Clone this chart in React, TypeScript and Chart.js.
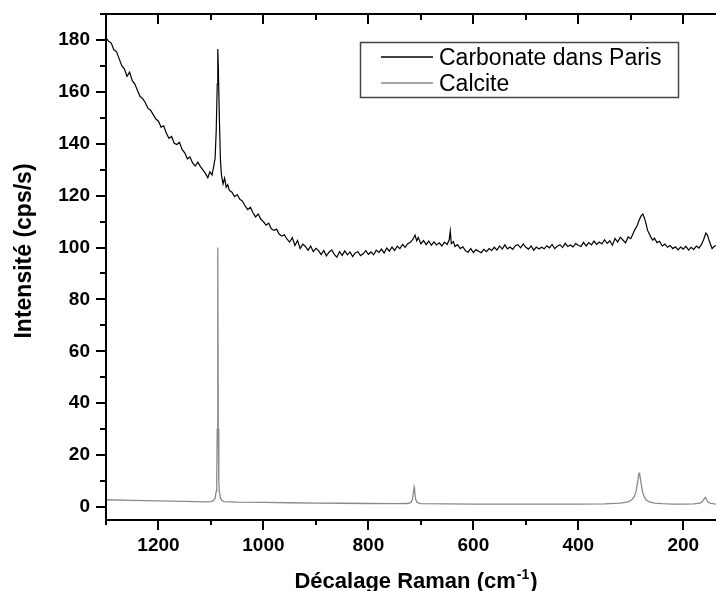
import React, { useEffect, useRef } from "react";
import { Chart, registerables } from "chart.js";

Chart.register(...registerables);

// ---- Data ----
const carbonateX = [
  1300, 1295, 1290, 1285, 1280, 1275, 1270, 1265, 1260, 1255, 1250, 1245, 1240, 1235, 1230, 1225, 1220, 1215, 1210, 1205,
  1200, 1195, 1190, 1185, 1180, 1175, 1170, 1165, 1160, 1155, 1150, 1145, 1140, 1135, 1130, 1125, 1120, 1115, 1110, 1106,
  1102, 1098, 1095, 1092, 1090, 1088, 1087, 1086, 1084, 1082, 1080, 1077, 1074, 1071, 1068, 1065, 1060, 1055, 1050, 1045,
  1040, 1035, 1030, 1025, 1020, 1015, 1010, 1005, 1000, 995, 990, 985, 980, 975, 970, 965, 960, 955, 950, 945,
  940, 935, 930, 925, 920, 915, 910, 905, 900, 895, 890, 885, 880, 875, 870, 865, 860, 855, 850, 845,
  840, 835, 830, 825, 820, 815, 810, 805, 800, 795, 790, 785, 780, 775, 770, 765, 760, 755, 750, 745,
  740, 735, 730, 725, 720, 715, 711, 708, 705, 700, 695, 690, 685, 680, 675, 670, 665, 660, 655, 650,
  646, 644, 642, 638, 635, 630, 625, 620, 615, 610, 605, 600, 595, 590, 585, 580, 575, 570, 565, 560,
  555, 550, 545, 540, 535, 530, 525, 520, 515, 510, 505, 500, 495, 490, 485, 480, 475, 470, 465, 460,
  455, 450, 445, 440, 435, 430, 425, 420, 415, 410, 405, 400, 395, 390, 385, 380, 375, 370, 365, 360,
  355, 350, 345, 340, 335, 330, 325, 320, 315, 310, 305, 300, 296, 292, 288, 284, 280, 277, 274, 271,
  268, 265, 262, 258, 255, 250, 245, 240, 235, 230, 225, 220, 215, 210, 205, 200, 195, 190, 185, 180,
  175, 170, 165, 161, 157, 154, 151, 148, 145, 142, 138,
];
const carbonateY = [
  180.8, 179.5, 178.8, 176.2, 175.5, 172.8, 170.1, 168.9, 166.0, 167.6, 164.3, 163.0, 160.5, 158.2, 157.4, 155.8, 153.6, 152.9, 151.2, 149.5,
  148.7, 146.4, 146.9, 144.0, 142.1, 142.8, 140.2, 139.7, 140.6, 137.8, 136.5, 134.2, 134.9, 132.6, 131.4, 132.9, 131.2, 129.8, 128.4, 126.9,
  129.2, 128.0, 131.0, 134.5, 145.0, 163.0, 176.5, 170.0, 150.0, 134.0, 128.0, 124.5, 126.8, 123.2, 124.2, 122.0, 121.3, 119.6, 120.4, 118.6,
  117.9, 116.1, 114.6, 115.5, 113.4, 111.8, 112.9, 110.9, 110.0, 108.6, 109.4, 107.2, 106.6, 107.1, 105.2, 104.4, 104.9, 103.2, 102.1, 103.8,
  100.8, 102.7, 99.6, 101.3, 100.4, 98.9, 100.6, 98.4, 99.7, 98.8, 97.3, 98.9, 96.8, 98.2, 99.1, 97.4, 96.3, 98.4, 97.0, 98.7,
  97.2, 98.3, 96.5, 97.9, 98.4, 96.9, 97.6, 98.8, 97.4, 98.3, 97.2, 99.0, 98.1, 99.4, 97.9, 99.8, 98.6, 100.2, 98.9, 100.5,
  99.6, 101.2, 100.1, 101.5, 102.0, 103.2, 104.8, 102.6, 103.9, 101.4, 102.7, 101.1, 102.5, 100.9, 102.2, 101.0, 101.8, 100.6, 102.1, 101.2,
  103.0, 106.4, 101.5, 102.3, 100.4, 101.1, 99.6, 100.3, 98.7, 98.2, 99.6, 98.1, 99.2, 98.6, 98.0, 99.3, 98.4, 99.6, 98.9, 100.1,
  99.0, 100.6, 99.4, 101.0, 99.5, 100.2, 99.3, 100.7, 101.1, 99.9, 101.4, 100.1, 99.4, 100.6, 99.0, 100.2, 99.4, 100.1, 99.5, 100.7,
  99.9, 101.2, 99.6, 100.5, 101.1, 100.0, 101.6, 100.4, 101.0, 100.2, 101.5, 100.9, 100.4, 102.0, 100.6, 101.9, 101.0, 102.5, 101.2, 102.1,
  101.4, 103.0, 101.6, 102.6, 100.9, 103.5, 102.1, 104.0, 102.9, 101.8, 104.1, 103.4, 105.2, 107.0, 108.4, 110.6, 112.3, 112.9, 111.4, 109.2,
  106.6, 105.4, 104.1, 102.8, 103.6, 101.9, 102.4, 100.6, 101.3, 100.1, 100.8, 99.6, 100.3, 99.1, 100.2, 99.4, 100.5, 99.0, 100.1, 99.3,
  100.6, 99.8, 101.3, 103.2, 105.6, 104.8, 102.9, 101.2, 99.6, 100.3, 100.8,
];

const calciteX = [
  1300, 1250, 1200, 1150, 1110, 1100, 1095, 1092, 1090, 1089, 1088, 1087, 1086, 1085, 1084, 1082, 1079, 1075, 1050, 1000,
  950, 900, 850, 800, 750, 725, 719, 716, 714, 713, 712, 710, 707, 700, 650, 600, 550, 500, 450, 400,
  350, 320, 305, 298, 293, 290, 287, 285, 284, 283, 281, 278, 275, 271, 265, 255, 240, 220, 200, 180,
  168, 163, 160, 158, 156, 153, 148, 140, 135,
];
const calciteY = [
  2.8, 2.6, 2.4, 2.2, 2.0, 2.1, 2.5, 3.5, 6, 10, 30, 100, 30, 10, 6, 3.5, 2.5, 2.1, 1.9, 1.8,
  1.65, 1.5, 1.45, 1.35, 1.3, 1.35, 1.8, 3, 6, 7.6, 6.5, 3, 1.8, 1.3, 1.2, 1.15, 1.1, 1.1, 1.1, 1.1,
  1.2, 1.5, 2.0, 2.8, 4.2, 6, 9.5, 12.5, 13, 12.5, 10, 6.2, 4.2, 2.8, 2.0, 1.5, 1.3, 1.15, 1.1, 1.2,
  1.5, 2.2, 3.2, 3.7, 3.0, 1.9, 1.4, 1.2, 1.1,
];

const seriesLabels = ["Carbonate dans Paris", "Calcite"];
const seriesColors = ["#000000", "#8a8a8a"];

const xTickLabels = [1200, 1000, 800, 600, 400, 200];
const xMinorTicks = [1300, 1100, 900, 700, 500, 300];
const yTickLabels = [0, 20, 40, 60, 80, 100, 120, 140, 160, 180];
const yMinorTicks = [10, 30, 50, 70, 90, 110, 130, 150, 170, 190];

const X_MIN = 130;
const X_MAX = 1300;
const Y_MIN = -5;
const Y_MAX = 190;

const xTitle = "Décalage Raman (cm";
const xTitleSup = "-1";
const xTitleEnd = ")";
const yTitle = "Intensité (cps/s)";

const FONT = '"Liberation Sans", Arial, Helvetica, sans-serif';

const framePlugin = {
  id: "frame",
  afterDraw(chart: any) {
    const { ctx, chartArea } = chart;
    const { left, right, top, bottom } = chartArea;
    const xs = chart.scales.x;
    const ys = chart.scales.y;
    ctx.save();
    ctx.strokeStyle = "#000";
    ctx.lineWidth = 2;
    ctx.lineCap = "butt";
    ctx.beginPath();
    ctx.moveTo(left - 1, top);
    ctx.lineTo(right + 1, top);
    ctx.moveTo(left - 1, bottom);
    ctx.lineTo(right + 1, bottom);
    ctx.moveTo(left, top);
    ctx.lineTo(left, bottom);
    ctx.moveTo(right, top);
    ctx.lineTo(right, bottom);
    for (const v of xTickLabels) {
      const p = Math.round(xs.getPixelForValue(v));
      ctx.moveTo(p, bottom);
      ctx.lineTo(p, bottom + 10);
      ctx.moveTo(p, top);
      ctx.lineTo(p, top + 10);
    }
    for (const v of xMinorTicks) {
      const p = Math.round(xs.getPixelForValue(v));
      ctx.moveTo(p, bottom);
      ctx.lineTo(p, bottom + 5);
      ctx.moveTo(p, top);
      ctx.lineTo(p, top + 6);
    }
    for (const v of yTickLabels) {
      const p = Math.round(ys.getPixelForValue(v));
      ctx.moveTo(left, p);
      ctx.lineTo(left - 10, p);
    }
    for (const v of yMinorTicks) {
      const p = Math.round(ys.getPixelForValue(v));
      ctx.moveTo(left, p);
      ctx.lineTo(left - 6, p);
    }
    ctx.stroke();

    // X title with superscript
    ctx.fillStyle = "#000";
    ctx.textBaseline = "alphabetic";
    ctx.textAlign = "left";
    const big = `bold 22px ${FONT}`;
    const yBig = `bold 23px ${FONT}`;
    const small = `bold 14px ${FONT}`;
    ctx.font = big;
    const w1 = ctx.measureText(xTitle).width;
    const w3 = ctx.measureText(xTitleEnd).width;
    ctx.font = small;
    const w2 = ctx.measureText(xTitleSup).width;
    const total = w1 + w2 + w3;
    const x0 = (left + right) / 2 - total / 2 + 2;
    const base = bottom + 68;
    ctx.font = big;
    ctx.fillText(xTitle, x0, base);
    ctx.font = small;
    ctx.fillText(xTitleSup, x0 + w1 + 1, base - 9);
    ctx.font = big;
    ctx.fillText(xTitleEnd, x0 + w1 + w2 + 2, base);

    // Y title
    ctx.save();
    ctx.translate(31, (top + bottom) / 2 - 16);
    ctx.rotate(-Math.PI / 2);
    ctx.font = yBig;
    ctx.textAlign = "center";
    ctx.fillText(yTitle, 0, 0);
    ctx.restore();

    // Legend box (inside plot)
    const ds = chart.data.datasets;
    ctx.lineWidth = 1.5;
    ctx.strokeStyle = "#444";
    ctx.strokeRect(360.5, 42.5, 318, 55);
    ctx.font = `23px ${FONT}`;
    ctx.textAlign = "left";
    ds.forEach((d: any, i: number) => {
      const cy = 57 + i * 26;
      ctx.strokeStyle = d.borderColor;
      ctx.lineWidth = 1.3;
      ctx.beginPath();
      ctx.moveTo(381, cy);
      ctx.lineTo(433, cy);
      ctx.stroke();
      ctx.fillStyle = "#000";
      ctx.fillText(d.label, 439, cy + 8);
    });
    ctx.restore();
  },
};

export default function App() {
  const ref = useRef<HTMLCanvasElement | null>(null);
  useEffect(() => {
    if (!ref.current) return;
    const tickFont = { family: FONT, size: 19, weight: "bold" as const };
    const chart = new Chart(ref.current, {
      type: "line",
      data: {
        datasets: [
          {
            label: seriesLabels[0],
            data: carbonateX.map((x, i) => ({ x, y: carbonateY[i] })),
            borderColor: seriesColors[0],
            borderWidth: 1.2,
            pointRadius: 0,
            fill: false,
            tension: 0,
          },
          {
            label: seriesLabels[1],
            data: calciteX.map((x, i) => ({ x, y: calciteY[i] })),
            borderColor: seriesColors[1],
            borderWidth: 1.3,
            pointRadius: 0,
            fill: false,
            tension: 0,
          },
        ],
      },
      options: {
        responsive: false,
        animation: false,
        layout: { padding: { top: 14, left: 0, right: 0, bottom: 0 } },
        plugins: {
          legend: { display: false },
          tooltip: { enabled: false },
        },
        scales: {
          x: {
            type: "linear",
            reverse: true,
            min: X_MIN,
            max: X_MAX,
            grid: { display: false, drawTicks: false },
            border: { display: false },
            afterBuildTicks: (s: any) => {
              s.ticks = xTickLabels.map((v) => ({ value: v }));
            },
            afterFit: (s: any) => {
              s.height = 71;
              s.paddingLeft = 0;
              s.paddingRight = 0;
            },
            ticks: {
              padding: 14,
              color: "#000",
              font: tickFont,
              autoSkip: false,
              maxRotation: 0,
              callback: (v: any) => String(v),
            },
          },
          y: {
            type: "linear",
            min: Y_MIN,
            max: Y_MAX,
            grid: { display: false, drawTicks: false },
            border: { display: false },
            afterBuildTicks: (s: any) => {
              s.ticks = yTickLabels.map((v) => ({ value: v }));
            },
            afterFit: (s: any) => {
              s.width = 106;
              s.paddingTop = 0;
              s.paddingBottom = 0;
            },
            ticks: {
              padding: 16,
              color: "#000",
              font: tickFont,
              autoSkip: false,
              callback: (v: any) => String(v),
            },
          },
        },
      } as any,
      plugins: [framePlugin],
    });
    return () => chart.destroy();
  }, []);
  return (
    <div style={{ position: "fixed", left: 0, top: 0, width: 720, height: 591, background: "#fff" }}>
      <canvas ref={ref} width={720} height={591} style={{ display: "block" }} />
    </div>
  );
}
